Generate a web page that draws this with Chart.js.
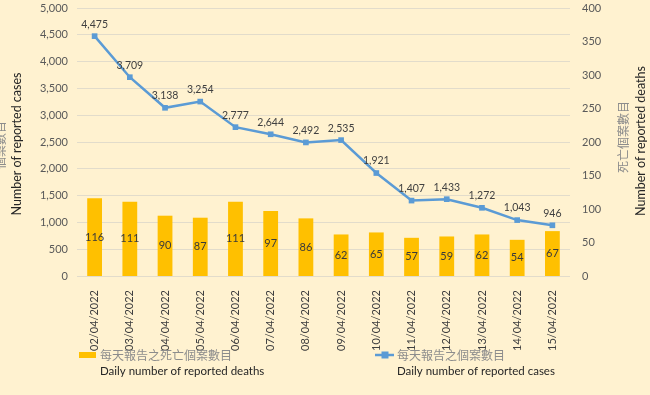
<!DOCTYPE html>
<html>
<head>
<meta charset="utf-8">
<script src="https://cdn.jsdelivr.net/npm/chart.js@4.4.1/dist/chart.umd.min.js"></script>
<style>
html,body{margin:0;padding:0;background:#fff2d0;}
#wrap{width:650px;height:395px;position:relative;}
</style>
</head>
<body>
<div id="wrap"><canvas id="c" width="650" height="395"></canvas></div>
<script>
const categories = ['02/04/2022','03/04/2022','04/04/2022','05/04/2022','06/04/2022','07/04/2022','08/04/2022','09/04/2022','10/04/2022','11/04/2022','12/04/2022','13/04/2022','14/04/2022','15/04/2022'];
const dailyCases = [4475,3709,3138,3254,2777,2644,2492,2535,1921,1407,1433,1272,1043,946];
const dailyDeaths = [116,111,90,87,111,97,86,62,65,57,59,62,54,67];
const casesTicks = [0,500,1000,1500,2000,2500,3000,3500,4000,4500,5000];
const deathsTicks = [0,50,100,150,200,250,300,350,400];
const seriesNames = {
  deathsZh: '每天報告之死亡個案數目', deathsEn: 'Daily number of reported deaths',
  casesZh: '每天報告之個案數目', casesEn: 'Daily number of reported cases'
};
const axisTitles = {
  leftZh: '個案數目', leftEn: 'Number of reported cases',
  rightZh: '死亡個案數目', rightEn: 'Number of reported deaths'
};

const FONT = "Lato, 'Open Sans', sans-serif";
const CJK = "'Noto Sans CJK TC', sans-serif";
const GOLD = '#ffc000';
const BLUE = '#5b9bd5';

const fmt = v => v.toLocaleString('en-US');

const labelsPlugin = {
  id: 'extras',
  afterDatasetsDraw(chart) {
    const ctx = chart.ctx;
    ctx.save();
    const barMeta = chart.getDatasetMeta(0);
    ctx.font = '11px ' + FONT;
    ctx.fillStyle = '#3a3a3a';
    ctx.textAlign = 'center';
    ctx.textBaseline = 'middle';
    barMeta.data.forEach((el, i) => {
      const p = el.getProps(['x','y','base'], true);
      ctx.fillText(fmt(dailyDeaths[i]), p.x, (p.y + p.base) / 2);
    });
    ctx.font = '10.5px ' + FONT;
    ctx.fillStyle = '#404040';
    const lineMeta = chart.getDatasetMeta(1);
    lineMeta.data.forEach((el, i) => {
      const p = el.getProps(['x','y'], true);
      ctx.fillText(fmt(dailyCases[i]), p.x, p.y - 12);
    });
    ctx.restore();
  },
  afterDraw(chart) {
    const ctx = chart.ctx;
    ctx.save();
    const drawRot = (text, x, y, font, color) => {
      ctx.save();
      ctx.translate(x, y);
      ctx.rotate(-Math.PI / 2);
      ctx.font = font;
      ctx.fillStyle = color;
      ctx.textAlign = 'center';
      ctx.textBaseline = 'middle';
      ctx.fillText(text, 0, 0);
      ctx.restore();
    };
    drawRot(axisTitles.leftZh, 0, 145, '12px ' + CJK, '#8c8c8c');
    drawRot(axisTitles.leftEn, 17, 144, '12.5px ' + FONT, '#262626');
    drawRot(axisTitles.rightZh, 623, 137, '12px ' + CJK, '#8c8c8c');
    drawRot(axisTitles.rightEn, 641, 141, '12.5px ' + FONT, '#262626');

    ctx.textAlign = 'left';
    ctx.textBaseline = 'middle';
    ctx.fillStyle = GOLD;
    ctx.fillRect(79, 352, 17, 6);
    ctx.font = '12px ' + CJK;
    ctx.fillStyle = '#8c8c8c';
    ctx.fillText(seriesNames.deathsZh, 100, 355);
    ctx.font = '11.5px ' + FONT;
    ctx.fillStyle = '#262626';
    ctx.fillText(seriesNames.deathsEn, 100, 371);

    ctx.strokeStyle = BLUE;
    ctx.lineWidth = 2.5;
    ctx.beginPath();
    ctx.moveTo(375, 355);
    ctx.lineTo(394, 355);
    ctx.stroke();
    ctx.fillStyle = BLUE;
    ctx.fillRect(381.5, 351.5, 7, 7);
    ctx.font = '12px ' + CJK;
    ctx.fillStyle = '#8c8c8c';
    ctx.fillText(seriesNames.casesZh, 397, 355);
    ctx.font = '11.5px ' + FONT;
    ctx.fillStyle = '#262626';
    ctx.fillText(seriesNames.casesEn, 397, 371);
    ctx.restore();
  }
};

new Chart(document.getElementById('c'), {
  data: {
    labels: categories,
    datasets: [
      {
        type: 'bar',
        label: seriesNames.deathsZh,
        data: dailyDeaths,
        backgroundColor: GOLD,
        yAxisID: 'y1',
        barPercentage: 0.42,
        categoryPercentage: 1.0,
        order: 2
      },
      {
        type: 'line',
        label: seriesNames.casesZh,
        data: dailyCases,
        borderColor: BLUE,
        backgroundColor: BLUE,
        borderWidth: 2.5,
        pointStyle: 'rect',
        pointRadius: 4,
        pointBorderWidth: 0,
        tension: 0,
        yAxisID: 'y',
        order: 1
      }
    ]
  },
  options: {
    responsive: false,
    animation: false,
    layout: { padding: { top: 8, left: 0, right: 0, bottom: 0 } },
    plugins: { legend: { display: false }, tooltip: { enabled: false } },
    scales: {
      x: {
        grid: { display: false },
        border: { display: false },
        ticks: {
          minRotation: 90, maxRotation: 90, padding: 6,
          color: '#404040', font: { family: FONT, size: 11 }
        },
        afterFit(s) { s.height = 119; s.paddingLeft = 0; s.paddingRight = 0; }
      },
      y: {
        position: 'left',
        min: 0, max: 5000,
        afterBuildTicks(s) { s.ticks = casesTicks.map(v => ({ value: v })); },
        grid: { color: '#e2dccb', lineWidth: 1, drawTicks: false },
        border: { display: false },
        ticks: {
          padding: 9, color: '#595959',
          font: { family: FONT, size: 11 },
          callback: v => fmt(v)
        },
        afterFit(s) { s.width = 77; s.paddingTop = 0; s.paddingBottom = 0; }
      },
      y1: {
        position: 'right',
        min: 0, max: 400,
        afterBuildTicks(s) { s.ticks = deathsTicks.map(v => ({ value: v })); },
        grid: { display: false, drawTicks: false },
        border: { display: false },
        ticks: {
          padding: 12, color: '#595959',
          font: { family: FONT, size: 11 }
        },
        afterFit(s) { s.width = 80; s.paddingTop = 0; s.paddingBottom = 0; }
      }
    }
  },
  plugins: [labelsPlugin]
});
</script>
</body>
</html>
